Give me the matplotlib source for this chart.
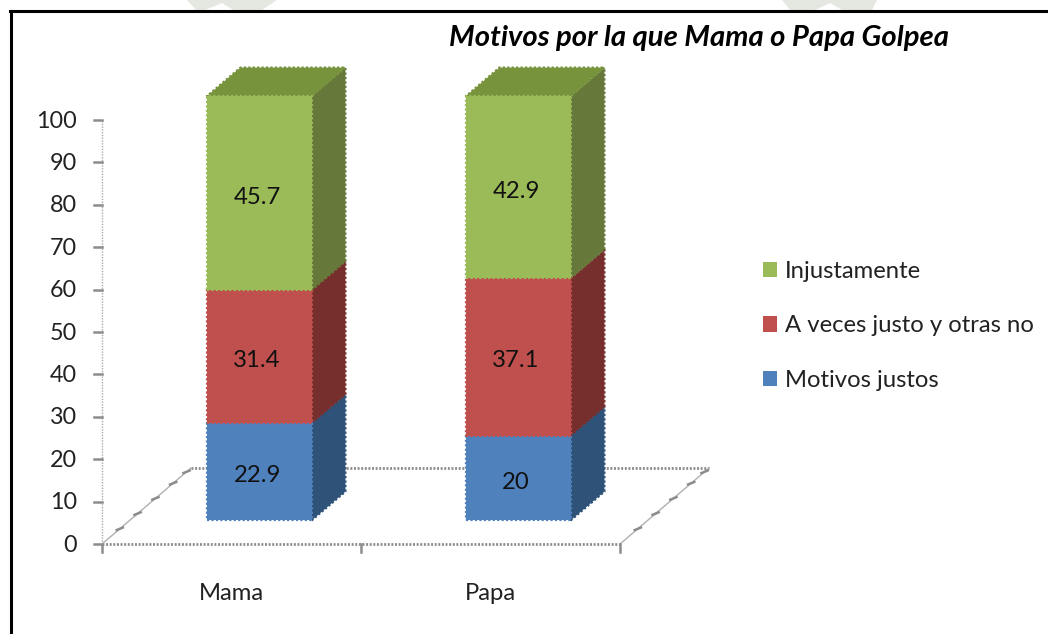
import matplotlib
matplotlib.use("Agg")
import matplotlib.pyplot as plt
from matplotlib.patches import Polygon, Patch

categories = ["Mama", "Papa"]
series_names = ["Motivos justos", "A veces justo y otras no", "Injustamente"]
motivos_justos = [22.9, 20]
a_veces = [31.4, 37.1]
injustamente = [45.7, 42.9]
y_ticks = list(range(0, 101, 10))
title = "Motivos por la que Mama o Papa Golpea"

front_colors = ["#4F81BD", "#C0504D", "#9BBB59"]
side_colors = ["#2F5279", "#772F2D", "#66783A"]
top_color = "#77933C"
axis_grey = "#8C8C8C"

W, H = 1048, 634
plt.rcParams["font.family"] = ["Lato", "DejaVu Sans"]
fig = plt.figure(figsize=(W / 100, H / 100), dpi=100)

# faint watermark remains above the frame
for pts in ([(187, 0), (277, 0), (262, 10), (233, 10), (222, 3), (205, 10), (196, 10)],
            [(782, 0), (877, 0), (872, 10), (842, 10), (830, 3), (815, 10), (790, 10)]):
    fig.add_artist(Polygon([(x / W, 1 - y / H) for x, y in pts], closed=True,
                           transform=fig.transFigure, fc="#E4E8E1", ec="none"))

# frame: only left and top sides are visible
fig.add_artist(plt.Line2D([11 / W, 11 / W], [0, 1 - 11 / H], color="black", lw=2.2,
                          transform=fig.transFigure))
fig.add_artist(plt.Line2D([10 / W, 1], [1 - 11 / H, 1 - 11 / H], color="black", lw=2.2,
                          transform=fig.transFigure))

ax = fig.add_axes([102 / W, 1 - 544 / H, (620 - 102) / W, (544 - 120) / H])
ax.set_xlim(-0.5, 1.5)
ax.set_ylim(0, 100)
ax.patch.set_alpha(0)
for s in ax.spines.values():
    s.set_visible(False)

DX = 89 / 259      # x-units of full floor depth
DY = 76 / 4.24     # y-units of full floor depth
D0, D1 = 0.31, 0.69  # bar depth range as fractions of floor depth
BW = 105 / 259


def proj(x, y, d):
    return (x + d * DX, y + d * DY)


# axis lines and floor
ax.set_xticks([])
ax.set_yticks([])
kw = dict(clip_on=False, color=axis_grey)
ax.plot([-0.5, -0.5], [0, 100], ls=(0, (1, 1)), lw=1.0, zorder=1, clip_on=False, color="#A8A8A8")
for t in y_ticks:
    ax.plot([-0.5 - 8 / 259, -0.5], [t, t], lw=1.8, zorder=1, **kw)
    ax.annotate(str(t), (-0.5, t), xytext=(-25, -1), textcoords="offset pixels",
                ha="right", va="center", fontsize=16.8, color="#222222")
ax.plot([-0.5, 1.5], [0, 0], ls=(0, (0.7, 0.6)), lw=2.0, zorder=1, **kw)
bx0, by = proj(-0.5, 0, 1)
bx1, _ = proj(1.5, 0, 1)
ax.plot([bx0, bx1], [by, by], ls=(0, (0.7, 0.6)), lw=2.0, zorder=1, **kw)
for x in (-0.5, 1.5):
    xb, yb = proj(x, 0, 1)
    ax.plot([x, xb], [0, yb], lw=1.0, color="#B0B0B0", clip_on=False, zorder=1)
    for f in (0.2, 0.4, 0.6, 0.8, 0.95):
        xc, yc = proj(x, 0, f)
        ax.plot([xc - 0.012, xc + 0.012], [yc - 0.3, yc + 0.3], lw=1.8,
                color=axis_grey, clip_on=False, zorder=1)
for x in (-0.5, 0.5, 1.5):
    ax.plot([x, x], [0, -8 / 4.24], lw=1.8, zorder=1, **kw)

# category labels
for i, c in enumerate(categories):
    ax.annotate(c, (i, 0), xytext=(0, -50), textcoords="offset pixels",
                ha="center", va="center", fontsize=17.2, color="#222222",
                annotation_clip=False)

# stacked 3-D looking bars
stacks = [motivos_justos, a_veces, injustamente]
for i in range(len(categories)):
    base = 0
    for j, vals in enumerate(stacks):
        v = vals[i]
        l, r = i - BW / 2, i + BW / 2
        fb_l = proj(l, base, D0); fb_r = proj(r, base, D0)
        ft_l = proj(l, base + v, D0); ft_r = proj(r, base + v, D0)
        bb_r = proj(r, base, D1); bt_r = proj(r, base + v, D1)
        ax.add_patch(Polygon([fb_r, bb_r, bt_r, ft_r], closed=True, fc=side_colors[j],
                             ec=side_colors[j], lw=1.6, ls=(0, (1, 1)), clip_on=False, zorder=3))
        ax.add_patch(Polygon([fb_l, fb_r, ft_r, ft_l], closed=True, fc=front_colors[j],
                             ec=front_colors[j], lw=1.6, ls=(0, (1, 1)), clip_on=False, zorder=4))
        if j == len(stacks) - 1:
            bt_l = proj(l, base + v, D1)
            ax.add_patch(Polygon([ft_l, ft_r, bt_r, bt_l], closed=True, fc=top_color,
                                 ec=top_color, lw=1.6, ls=(0, (1, 1)), clip_on=False, zorder=3))
        cx, cy = proj(i, base + v / 2, D0)
        ax.annotate(f"{v:g}", (cx, cy), xytext=(-2, -4), textcoords="offset pixels",
                    ha="center", va="center", fontsize=17.2, color="#111111", zorder=6)
        base += v

# title
fig.text(699 / W, 1 - 38 / H, title, ha="center", va="center", fontsize=21.1,
         fontweight="bold", fontstyle="italic", color="black")

# legend (top entry is the top segment)
handles = [Patch(fc=front_colors[k], ec="none") for k in range(2, -1, -1)]
labels = [series_names[k] for k in range(2, -1, -1)]
leg = fig.legend(handles, labels, loc="center left", bbox_to_anchor=(758 / W, 1 - 326 / H),
                 frameon=False, fontsize=17.2, labelcolor="#222222", handlelength=0.6,
                 handleheight=0.6, handletextpad=0.33, labelspacing=1.39, borderpad=0.2,
                 borderaxespad=0)

fig.savefig("out.png", dpi=100, facecolor="white")
